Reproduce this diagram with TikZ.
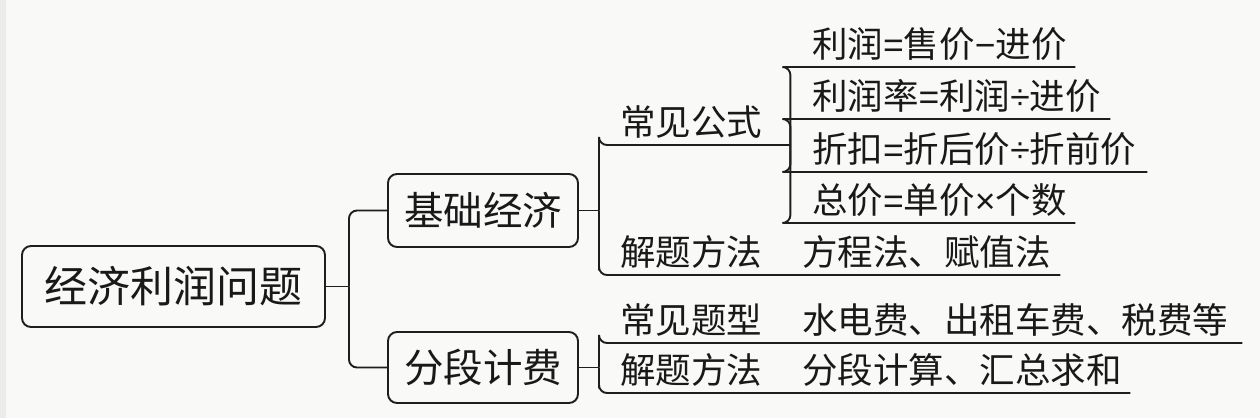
\documentclass[tikz,border=0pt]{standalone}
\usepackage{fontspec}
\setmainfont{Noto Sans CJK SC}
\newfontfamily\symfont{Liberation Sans}
\newcommand{\sy}[1]{{\symfont #1}}
\setlength{\parindent}{0pt}
\definecolor{linec}{RGB}{30,30,30}
\definecolor{textc}{RGB}{25,25,25}
\definecolor{bgc}{RGB}{249,250,247}
\definecolor{stripc}{RGB}{236,237,234}
\begin{document}
\begin{tikzpicture}[x=1pt,y=-1pt,
  box/.style={draw=linec, line width=1.9pt, rounded corners=9pt, inner sep=0pt, text=textc},
  topic/.style={anchor=south west, inner xsep=0pt, inner ysep=6pt, align=left,
    text width=#1, font=\fontsize{35.5}{40}\selectfont, text=textc},
  conn/.style={draw=linec, line width=1.9pt, rounded corners=8pt},
  stem/.style={draw=linec, line width=1.9pt},
]
\useasboundingbox (0,0) rectangle (1260,418);
\fill[bgc] (0,0) rectangle (1260,418);
\fill[stripc] (0,0) rectangle (6,418);

% main boxes
\node[box, minimum width=303pt, minimum height=81pt, font=\fontsize{43}{48}\selectfont] (root) at (173.5,286.5) {经济利润问题};
\node[box, minimum width=190pt, minimum height=73pt, font=\fontsize{39.5}{44}\selectfont] (b1) at (483,210.5) {基础经济};
\node[box, minimum width=190pt, minimum height=71pt, font=\fontsize{39.5}{44}\selectfont] (b2) at (483,367.5) {分段计费};

% topics
\node[topic=191pt] (t1) at (599,145) {\hspace*{21pt}常见公式};
\node[topic=461pt] (t2) at (599,275) {\hspace*{21pt}解题方法\hspace{40pt}方程法、赋值法};
\node[topic=285pt] (f1) at (790,67) {\hspace*{22pt}利润\sy{=}售价\sy{−}进价};
\node[topic=320pt] (f2) at (790,119) {\hspace*{22pt}利润率\sy{=}利润\sy{÷}进价};
\node[topic=357pt] (f3) at (790,172) {\hspace*{22pt}折扣\sy{=}折后价\sy{÷}折前价};
\node[topic=285pt] (f4) at (790,223) {\hspace*{22pt}总价\sy{=}单价\sy{×}个数};
\node[topic=643pt] (t3) at (599,343) {\hspace*{21pt}常见题型\hspace{40pt}水电费、出租车费、税费等};
\node[topic=531pt] (t4) at (599,393) {\hspace*{21pt}解题方法\hspace{40pt}分段计算、汇总求和};

% junctions
\coordinate (j0) at (349,286.5);
\coordinate (j1) at (599,210.5);
\coordinate (j2) at (599,367.5);

% connectors
\draw[stem] (root.east) -- (j0);
\draw[conn] (j0) |- (b1.west);
\draw[conn] (j0) |- (b2.west);

\draw[stem] (b1.east) -- (j1);
\draw[conn] (j1) |- (t1.south west) -- (t1.south east);
\draw[conn] (j1) |- (t2.south west) -- (t2.south east);

\draw[conn] (t1.south east) |- (f1.south west) -- (f1.south east);
\draw[conn] (t1.south east) |- (f2.south west) -- (f2.south east);
\draw[conn] (t1.south east) |- (f3.south west) -- (f3.south east);
\draw[conn] (t1.south east) |- (f4.south west) -- (f4.south east);

\draw[stem] (b2.east) -- (j2);
\draw[conn] (j2) |- (t3.south west) -- (t3.south east);
\draw[conn] (j2) |- (t4.south west) -- (t4.south east);
\end{tikzpicture}
\end{document}
